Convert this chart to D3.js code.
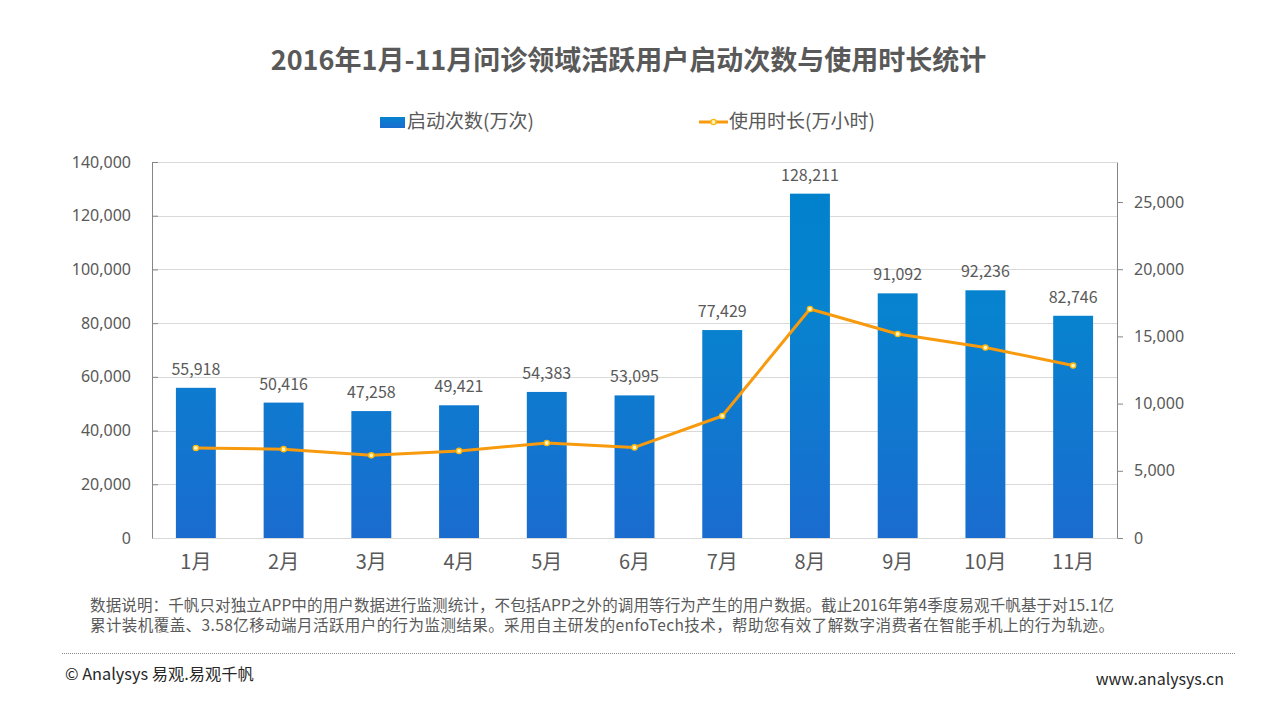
<!DOCTYPE html>
<html>
<head>
<meta charset="utf-8">
<script src="https://cdn.jsdelivr.net/npm/d3@7"></script>
<style>
  html, body { margin: 0; padding: 0; background: #fff; }
  text { font-family: "Noto Sans CJK SC", "Noto Sans", sans-serif; }
</style>
</head>
<body>
<div id="wrapper"></div>
<script>
const months = ["1月", "2月", "3月", "4月", "5月", "6月", "7月", "8月", "9月", "10月", "11月"];
const launches = [55918, 50416, 47258, 49421, 54383, 53095, 77429, 128211, 91092, 92236, 82746];
const hours = [6700, 6610, 6150, 6480, 7070, 6740, 9080, 17040, 15180, 14170, 12830];
const leftTicks = [0, 20000, 40000, 60000, 80000, 100000, 120000, 140000];
const rightTicks = [0, 5000, 10000, 15000, 20000, 25000];
const noteLines = [
  "数据说明：千帆只对独立APP中的用户数据进行监测统计，不包括APP之外的调用等行为产生的用户数据。截止2016年第4季度易观千帆基于对15.1亿",
  "累计装机覆盖、3.58亿移动端月活跃用户的行为监测结果。采用自主研发的enfoTech技术，帮助您有效了解数字消费者在智能手机上的行为轨迹。",
];

const dimensions = {
  width: 1280,
  height: 720,
  margin: { top: 162, right: 163, bottom: 182, left: 152 },
};
dimensions.boundedWidth = dimensions.width - dimensions.margin.left - dimensions.margin.right;
dimensions.boundedHeight = dimensions.height - dimensions.margin.top - dimensions.margin.bottom;

const wrapper = d3.select("#wrapper").append("svg")
  .attr("width", dimensions.width)
  .attr("height", dimensions.height)
  .style("display", "block");

const defs = wrapper.append("defs");
const grad = defs.append("linearGradient")
  .attr("id", "barFill")
  .attr("gradientUnits", "userSpaceOnUse")
  .attr("x1", 0).attr("x2", 0)
  .attr("y1", 0).attr("y2", dimensions.boundedHeight);
grad.append("stop").attr("offset", "0%").attr("stop-color", "#0080cc");
grad.append("stop").attr("offset", "40%").attr("stop-color", "#0783cf");
grad.append("stop").attr("offset", "100%").attr("stop-color", "#1a6ccf");

const legendGrad = defs.append("linearGradient")
  .attr("id", "legendFill")
  .attr("x1", 0).attr("x2", 0).attr("y1", 0).attr("y2", 1);
legendGrad.append("stop").attr("offset", "0%").attr("stop-color", "#0783cf");
legendGrad.append("stop").attr("offset", "100%").attr("stop-color", "#1a6ccf");

const bounds = wrapper.append("g")
  .attr("transform", `translate(${dimensions.margin.left}, ${dimensions.margin.top})`);

// scales
const xScale = d3.scaleBand()
  .domain(months)
  .range([0, dimensions.boundedWidth])
  .paddingInner(0.545)
  .paddingOuter(0.2725);

const yLeft = d3.scaleLinear().domain([0, 140000]).range([dimensions.boundedHeight, 0]);
const yRight = d3.scaleLinear().domain([0, 27976]).range([dimensions.boundedHeight, 0]);

const labelColor = "#595959";
const fmt = d3.format(",");

// gridlines
bounds.append("g")
  .selectAll("line")
  .data(leftTicks)
  .join("line")
  .attr("x1", 0)
  .attr("x2", dimensions.boundedWidth)
  .attr("y1", (d) => Math.round(yLeft(d)) + 0.5)
  .attr("y2", (d) => Math.round(yLeft(d)) + 0.5)
  .attr("stroke", "#d9d9d9");

// bars
bounds.append("g")
  .selectAll("rect")
  .data(launches)
  .join("rect")
  .attr("x", (d, i) => xScale(months[i]))
  .attr("y", (d) => yLeft(d))
  .attr("width", xScale.bandwidth())
  .attr("height", (d) => dimensions.boundedHeight - yLeft(d))
  .attr("fill", "url(#barFill)");

// bar labels
bounds.append("g")
  .selectAll("text")
  .data(launches)
  .join("text")
  .attr("x", (d, i) => xScale(months[i]) + xScale.bandwidth() / 2)
  .attr("y", (d) => yLeft(d) - 13)
  .attr("text-anchor", "middle")
  .attr("font-size", 16)
  .attr("fill", labelColor)
  .text((d) => fmt(d));

// axes
const axisLeft = d3.axisLeft(yLeft).tickValues(leftTicks).tickFormat(fmt)
  .tickSize(0).tickSizeOuter(0).tickPadding(21);
const axisRight = d3.axisRight(yRight).tickValues(rightTicks).tickFormat(fmt)
  .tickSize(6).tickSizeOuter(0).tickPadding(11);

const leftG = bounds.append("g").call(axisLeft);
const rightG = bounds.append("g").attr("transform", `translate(${dimensions.boundedWidth}, 0)`).call(axisRight);
const bottomG = bounds.append("g")
  .attr("transform", `translate(0, ${dimensions.boundedHeight})`)
  .call(d3.axisBottom(xScale).tickSize(0).tickSizeOuter(0).tickPadding(17));

[leftG, rightG].forEach((g) => {
  g.selectAll(".domain").attr("stroke", "#868686").attr("stroke-width", 1);
  g.selectAll(".tick line").attr("stroke", "#868686");
  g.selectAll("text").attr("font-size", 16).attr("fill", labelColor)
    .style("font-family", '"Noto Sans", sans-serif');
});
leftG.selectAll(".tick").append("line").attr("x2", 6).attr("stroke", "#868686");
bottomG.select(".domain").attr("stroke", "#d9d9d9");
bottomG.selectAll("text").attr("font-size", 20).attr("fill", labelColor);

// line
const line = d3.line()
  .x((d, i) => xScale(months[i]) + xScale.bandwidth() / 2)
  .y((d) => yRight(d));

bounds.append("path")
  .datum(hours)
  .attr("d", line)
  .attr("fill", "none")
  .attr("stroke", "#f79a0e")
  .attr("stroke-width", 3)
  .attr("stroke-linejoin", "round");

bounds.append("g")
  .selectAll("circle")
  .data(hours)
  .join("circle")
  .attr("cx", (d, i) => xScale(months[i]) + xScale.bandwidth() / 2)
  .attr("cy", (d) => yRight(d))
  .attr("r", 2.6)
  .attr("fill", "#fff3c4")
  .attr("stroke", "#f9b90e")
  .attr("stroke-width", 1.4);

// title
wrapper.append("text")
  .attr("x", 628.5).attr("y", 70)
  .attr("text-anchor", "middle")
  .attr("font-size", 27)
  .attr("font-weight", 700)
  .attr("fill", "#595959")
  .text("2016年1月-11月问诊领域活跃用户启动次数与使用时长统计");

// legend
wrapper.append("rect")
  .attr("x", 380).attr("y", 117)
  .attr("width", 25).attr("height", 11)
  .attr("fill", "url(#legendFill)");
wrapper.append("text")
  .attr("x", 407).attr("y", 128)
  .attr("font-size", 19)
  .attr("fill", labelColor)
  .text("启动次数(万次)");
wrapper.append("line")
  .attr("x1", 699).attr("x2", 728)
  .attr("y1", 122).attr("y2", 122)
  .attr("stroke", "#f79a0e")
  .attr("stroke-width", 3);
wrapper.append("circle")
  .attr("cx", 713.5).attr("cy", 122)
  .attr("r", 2.6)
  .attr("fill", "#fff3c4")
  .attr("stroke", "#f9b90e")
  .attr("stroke-width", 1.4);
wrapper.append("text")
  .attr("x", 729).attr("y", 128)
  .attr("font-size", 19)
  .attr("fill", labelColor)
  .text("使用时长(万小时)");

// note
wrapper.append("g")
  .selectAll("text")
  .data(noteLines)
  .join("text")
  .attr("x", 90)
  .attr("y", (d, i) => 611 + i * 20)
  .attr("font-size", 15.5)
  .attr("textLength", 1024)
  .attr("lengthAdjust", "spacing")
  .attr("fill", labelColor)
  .text((d) => d);

// footer
wrapper.append("line")
  .attr("x1", 62).attr("x2", 1235)
  .attr("y1", 653.5).attr("y2", 653.5)
  .attr("stroke", "#8c8c8c")
  .attr("stroke-dasharray", "1 1");
wrapper.append("text")
  .attr("x", 65).attr("y", 680)
  .attr("font-size", 16.3)
  .attr("fill", "#262626")
  .text("© Analysys 易观.易观千帆");
wrapper.append("text")
  .attr("x", 1224).attr("y", 685)
  .attr("text-anchor", "end")
  .attr("font-size", 16)
  .attr("fill", "#262626")
  .text("www.analysys.cn");
</script>
</body>
</html>
